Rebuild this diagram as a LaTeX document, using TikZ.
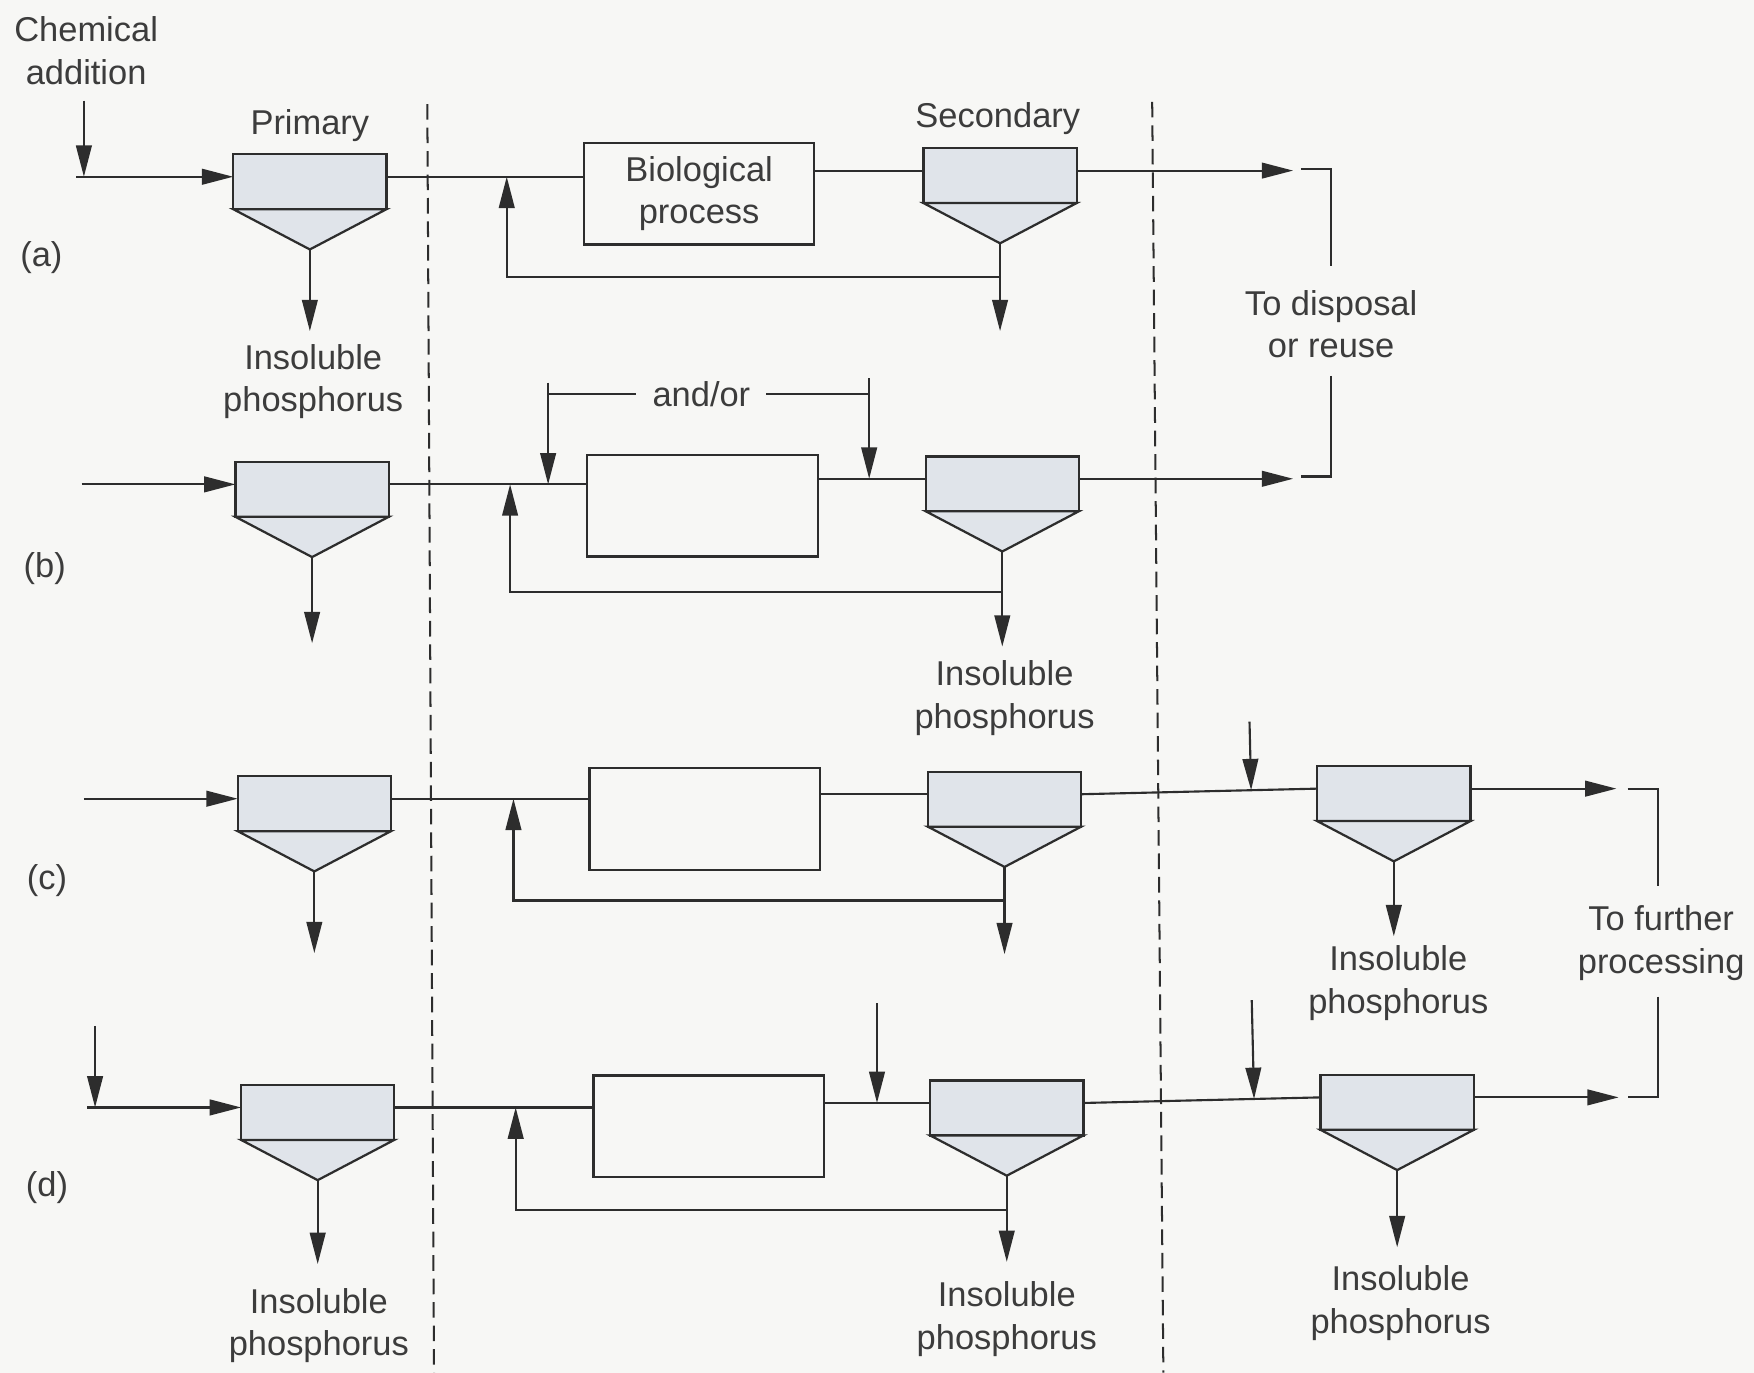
\documentclass[tikz,border=0pt]{standalone}
\usepackage{fontspec}
\setmainfont{Liberation Sans}
\usetikzlibrary{arrows.meta,calc}
\definecolor{lc}{RGB}{45,45,45}
\definecolor{tc}{RGB}{60,60,60}
\definecolor{cf}{RGB}{224,228,234}
\definecolor{bg}{RGB}{247,247,245}
\tikzset{
  ln/.style={draw=lc, line width=0.95pt},
  arr/.style={ln, -{Triangle[length=14pt,width=7pt]}},
  clarbox/.style={draw=lc, line width=1pt, fill=cf, minimum width=68.5pt, minimum height=24.5pt, inner sep=0pt, outer sep=0pt},
  lbl/.style={font=\fontsize{15.4}{19}\selectfont, text=tc, align=center, inner sep=0pt},
  biobox/.style={lbl, draw=lc, line width=1pt, minimum width=103pt, minimum height=45.5pt, outer sep=0pt},
  divider/.style={draw=lc, line width=0.9pt, dash pattern=on 7pt off 3.5pt},
}
\newcommand\clar[3]{%
  \node[clarbox] (#1) at (#2,#3+4.5) {};
  \draw[ln, line width=1pt, fill=cf] (#1.south west) -- ($(#1.south)+(0,36)$) coordinate (#1-apex) -- (#1.south east) -- cycle;
  \coordinate (#1-in) at ($(#1.west)+(0,-4.5)$);
  \coordinate (#1-out) at ($(#1.east)+(0,-4.5)$);
}
\begin{document}
\begin{tikzpicture}[x=0.5pt,y=-0.5pt]
\fill[bg] (0,0) rectangle (1568,1227);
\useasboundingbox (0,0) rectangle (1568,1227);
% dividers
\coordinate (d1t) at (382,93); \coordinate (d1b) at (388,1227);
\coordinate (d2t) at (1030,91); \coordinate (d2b) at (1040,1227);
\draw[divider] (d1t) -- (d1b);
\draw[divider] (d2t) -- (d2b);

% ---------- row (a)
\node[lbl] (chem) at (77,45.5) {Chemical\\addition};
\node[lbl] (laba) at (37,230) {(a)};
\clar{pa}{277}{158}
\node[lbl] (prim) at (277,112) {Primary};
\node[biobox] (ba) at (625,173) {Biological\\process};
\clar{sa}{894}{152.5}
\node[lbl] (sec) at (892,106) {Secondary};
\coordinate (inA) at (68,158);
\coordinate (chA) at (75,90);
\draw[arr] (inA) -- (pa-in);
\draw[arr] (chA) -- (chA |- pa-in);
\draw[ln] (pa-out) -- (pa-out -| ba.west);
\draw[ln] (ba.east |- sa-in) -- (sa-in);
\coordinate (ra) at (453,248);
\draw[arr] (sa-apex |- ra) -- (ra) -- (ra |- pa-out);
\draw[arr] (pa-apex) -- (pa-apex |- 0,296);
\draw[arr] (sa-apex) -- (sa-apex |- 0,296);
\node[lbl] (ipa) at (280,341) {Insoluble\\phosphorus};
\coordinate (endA) at (1156,151);
\draw[arr] (sa-out) -- (sa-out -| endA);
\node[lbl] (disp) at (1190,290) {To disposal\\or reuse};
\coordinate (dA) at (1163,151);
\coordinate (dT) at (1190,238);
\coordinate (dB) at (1190,336);
\coordinate (dC) at (1163,426);
\draw[ln] (dA) -| (dT);
\draw[ln] (dB) |- (dC);

% ---------- row (b)
\node[lbl] (labb) at (40,508) {(b)};
\clar{pb}{279}{433}
\node[biobox] (bb) at (628,452) {};
\clar{sb}{896}{428}
\coordinate (inB) at (73,433);
\draw[arr] (inB) -- (pb-in);
\draw[ln] (pb-out) -- (pb-out -| bb.west);
\draw[ln] (bb.east |- sb-in) -- (sb-in);
\node[lbl, inner xsep=7pt] (andor) at (627,352) {and/or};
\coordinate (aoL) at (490,342);
\coordinate (aoR) at (777,338);
\draw[ln] (aoL |- andor) -- (andor.west);
\draw[ln] (andor.east) -- (aoR |- andor);
\draw[arr] (aoL) -- (aoL |- pb-out);
\draw[arr] (aoR) -- (aoR |- sb-in);
\coordinate (rb) at (456,529);
\draw[arr] (sb-apex |- rb) -- (rb) -- (rb |- pb-out);
\draw[arr] (pb-apex) -- (pb-apex |- 0,575);
\draw[arr] (sb-apex) -- (sb-apex |- 0,578);
\node[lbl] (ipb) at (898,624) {Insoluble\\phosphorus};
\coordinate (endB) at (1156,426);
\draw[arr] (sb-out) -- (sb-out -| endB);

% ---------- row (c)
\node[lbl] (labc) at (42,787) {(c)};
\clar{pc}{281}{714}
\node[biobox] (bc) at (630,732) {};
\clar{sc}{898}{710}
\clar{qc}{1246}{705}
\coordinate (inC) at (75,714);
\draw[arr] (inC) -- (pc-in);
\draw[ln] (pc-out) -- (pc-out -| bc.west);
\draw[ln] (bc.east |- sc-in) -- (sc-in);
\draw[ln] (sc-out) -- (qc-in);
\coordinate (chC) at (1117,645);
\draw[arr] (chC) -- ($(sc-out)!(chC)!(qc-in)$);
\coordinate (rc) at (459,805);
\draw[arr] (sc-apex |- rc) -- (rc) -- (rc |- pc-out);
\draw[arr] (pc-apex) -- (pc-apex |- 0,852);
\draw[arr] (sc-apex) -- (sc-apex |- 0,853);
\draw[arr] (qc-apex) -- (qc-apex |- 0,837);
\node[lbl] (ipc) at (1250,879) {Insoluble\\phosphorus};
\coordinate (endC) at (1445,705);
\draw[arr] (qc-out) -- (qc-out -| endC);
\node[lbl] (furth) at (1485,843) {To further\\processing};
\coordinate (fA) at (1455,705);
\coordinate (fT) at (1482,792);
\coordinate (fB) at (1482,891);
\coordinate (fC) at (1455,981);
\draw[ln] (fA) -| (fT);
\draw[ln] (fB) |- (fC);

% ---------- row (d)
\node[lbl] (labd) at (42,1062) {(d)};
\clar{pd}{284}{990}
\node[biobox] (bd) at (633.5,1007) {};
\clar{sd}{900}{986}
\clar{qd}{1249}{981}
\coordinate (inD) at (78,990);
\coordinate (chD1) at (85,917);
\draw[arr] (inD) -- (pd-in);
\draw[arr] (chD1) -- (chD1 |- pd-in);
\draw[ln] (pd-out) -- (pd-out -| bd.west);
\draw[ln] (bd.east |- sd-in) -- (sd-in);
\coordinate (chD2) at (784,897);
\draw[arr] (chD2) -- (chD2 |- sd-in);
\draw[ln] (sd-out) -- (qd-in);
\coordinate (chD3) at (1119,894);
\draw[arr] (chD3) -- ($(sd-out)!(chD3)!(qd-in)$);
\coordinate (rd) at (461,1082);
\draw[arr] (sd-apex |- rd) -- (rd) -- (rd |- pd-out);
\draw[arr] (pd-apex) -- (pd-apex |- 0,1130);
\draw[arr] (sd-apex) -- (sd-apex |- 0,1128);
\draw[arr] (qd-apex) -- (qd-apex |- 0,1115);
\node[lbl] (ipd1) at (285,1185) {Insoluble\\phosphorus};
\node[lbl] (ipd2) at (900,1179) {Insoluble\\phosphorus};
\node[lbl] (ipd3) at (1252,1165) {Insoluble\\phosphorus};
\coordinate (endD) at (1447,981);
\draw[arr] (qd-out) -- (qd-out -| endD);
\end{tikzpicture}
\end{document}
